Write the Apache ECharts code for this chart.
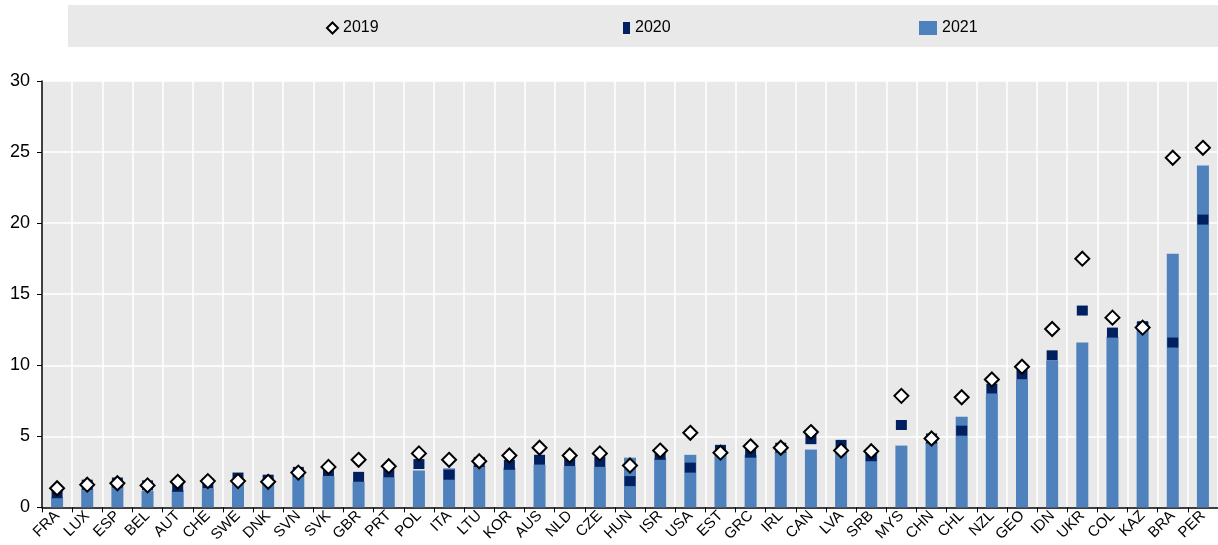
<!DOCTYPE html>
<html>
<head>
<meta charset="utf-8">
<script src="https://cdn.jsdelivr.net/npm/echarts@6/dist/echarts.min.js"></script>
<style>
  html, body { margin: 0; padding: 0; background: #fff; }
  #main { width: 1218px; height: 545px; }
</style>
</head>
<body>
<div id="main"></div>
<script>
// countries, sorted as in the figure
var countries = ['FRA','LUX','ESP','BEL','AUT','CHE','SWE','DNK','SVN','SVK','GBR','PRT','POL','ITA','LTU','KOR','AUS','NLD','CZE','HUN',
    'ISR','USA','EST','GRC','IRL','CAN','LVA','SRB','MYS','CHN','CHL','NZL','GEO','IDN','UKR','COL','KAZ','BRA','PER'];

var values2021 = [0.7,1.3,1.6,1.15,1.2,1.35,1.8,1.7,2.3,2.2,1.8,2.1,2.6,2.75,2.9,2.8,3.0,2.9,2.85,3.5,
    3.45,3.7,3.7,3.7,3.9,4.07,4.1,4.0,4.35,4.6,6.38,8.0,9.0,10.33,11.6,12.0,13.05,17.85,24.05];

var values2020 = [1.0,1.6,1.75,1.55,1.45,1.7,2.1,1.95,2.5,2.55,2.15,2.45,3.05,2.3,3.2,3.0,3.35,3.25,3.2,1.85,
    3.7,2.8,4.05,3.85,4.2,4.8,4.4,3.6,5.8,4.85,5.4,8.35,9.35,10.7,13.85,12.3,12.75,11.6,20.25];

var values2019 = [1.35,1.6,1.7,1.55,1.8,1.85,1.85,1.8,2.45,2.85,3.35,2.9,3.8,3.35,3.25,3.65,4.2,3.65,3.8,2.95,
    4.0,5.25,3.85,4.3,4.2,5.3,4.0,3.95,7.85,4.85,7.75,9.0,9.9,12.55,17.5,13.35,12.65,24.6,25.3];

var yTicks = [0, 5, 10, 15, 20, 25, 30];

var font = "'Liberation Sans Narrow', 'Arial Narrow', 'Liberation Sans', sans-serif";
var lightBlue = '#4f81bd';
var navy = '#002060';

var option = {
    animation: false,
    graphic: [
        {
            type: 'rect',
            z: -1,
            shape: { x: 68, y: 5, width: 1150, height: 42 },
            style: { fill: '#e9e9e9' }
        }
    ],
    legend: [
        {
            data: ['2019'], left: 321, top: 15,
            itemWidth: 11, itemHeight: 11, itemGap: 4,
            textStyle: { fontFamily: font, fontSize: 16, color: '#000' }
        },
        {
            data: ['2020'], left: 618, top: 15,
            itemWidth: 7, itemHeight: 12, itemGap: 3,
            icon: 'rect',
            textStyle: { fontFamily: font, fontSize: 16, color: '#000' }
        },
        {
            data: ['2021'], left: 914, top: 15,
            itemWidth: 18, itemHeight: 14, itemGap: 3,
            icon: 'rect',
            textStyle: { fontFamily: font, fontSize: 16, color: '#000' }
        }
    ],
    grid: {
        left: 42, right: 0, top: 81, bottom: 37,
        show: true, backgroundColor: '#e9e9e9', borderWidth: 0
    },
    xAxis: {
        type: 'category',
        data: countries,
        axisLine: { lineStyle: { color: '#000', width: 1.5 } },
        axisTick: { show: true, length: 5, lineStyle: { color: '#000' } },
        splitLine: { show: true, lineStyle: { color: '#fff', width: 1.5 } },
        axisLabel: {
            rotate: 45, interval: 0, margin: 6,
            fontFamily: font, fontSize: 15, color: '#000'
        }
    },
    yAxis: {
        type: 'value',
        min: yTicks[0], max: yTicks[yTicks.length - 1], interval: 5,
        axisLine: { show: true, lineStyle: { color: '#000', width: 1.5 } },
        axisTick: { show: true, length: 5, lineStyle: { color: '#000' } },
        splitLine: { show: true, lineStyle: { color: '#fff', width: 1.5 } },
        axisLabel: { margin: 12, fontFamily: font, fontSize: 18, color: '#000' }
    },
    series: [
        {
            name: '2021',
            type: 'bar',
            data: values2021,
            barWidth: 12,
            itemStyle: { color: lightBlue }
        },
        {
            name: '2020',
            type: 'scatter',
            data: values2020,
            symbol: 'rect',
            symbolSize: [11, 10],
            itemStyle: { color: navy, opacity: 1 }
        },
        {
            name: '2019',
            type: 'scatter',
            data: values2019,
            symbol: 'diamond',
            symbolSize: [14, 14],
            itemStyle: { color: '#fff', borderColor: '#000', borderWidth: 2, opacity: 1 }
        }
    ]
};

var myChart = echarts.init(document.getElementById('main'));
myChart.setOption(option);
</script>
</body>
</html>
